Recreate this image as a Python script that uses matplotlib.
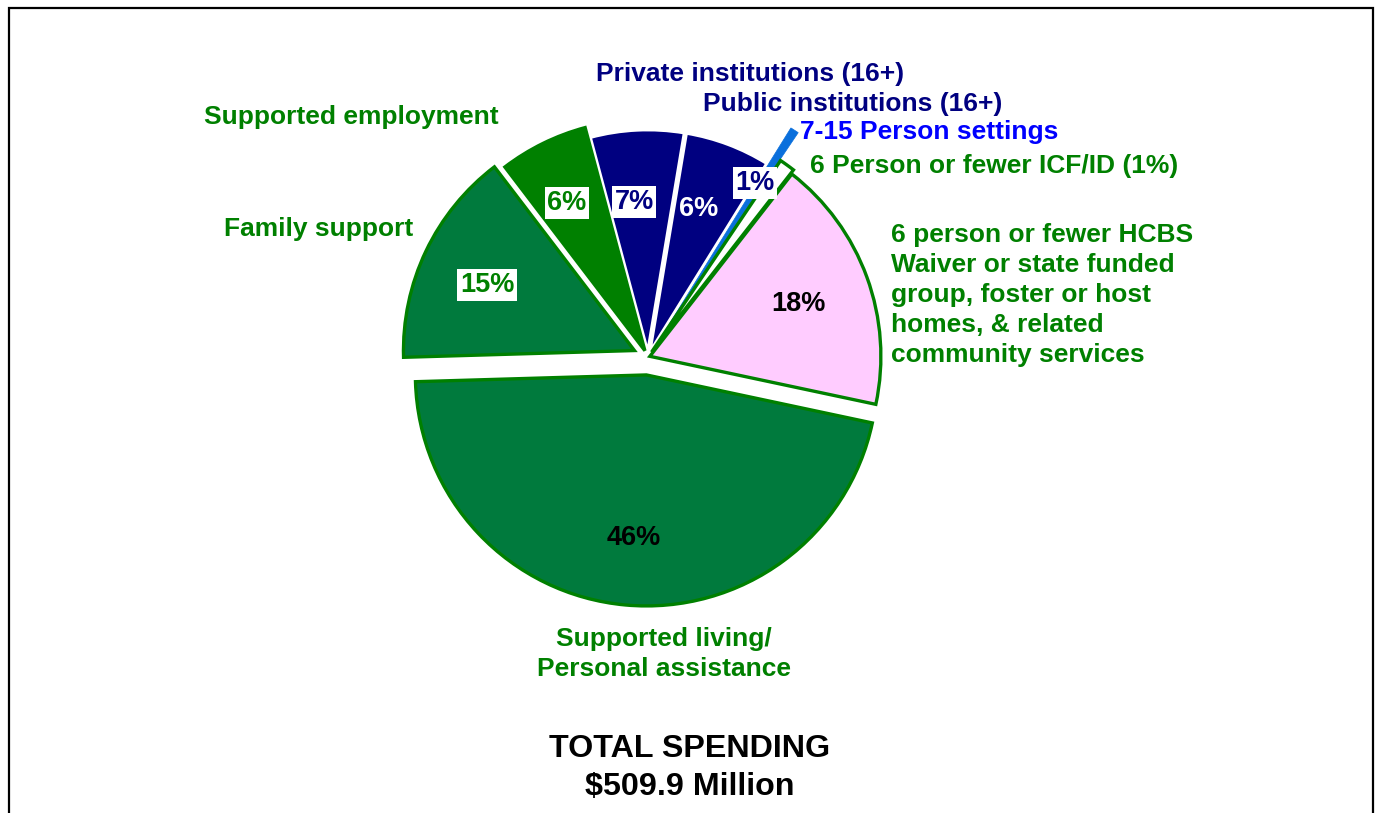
import matplotlib.pyplot as plt
from matplotlib.patches import Rectangle

plt.rcParams['font.family'] = ['Liberation Sans', 'DejaVu Sans']
plt.rcParams['font.weight'] = 'bold'

# slices, clockwise from the top
categories = ["Private institutions (16+)", "Public institutions (16+)",
              "7-15 Person settings", "6 Person or fewer ICF/ID (1%)",
              "6 person or fewer HCBS\nWaiver or state funded\ngroup, foster or host\nhomes, & related\ncommunity services",
              "Supported living/\nPersonal assistance", "Family support",
              "Supported employment"]
shares = [6.8, 6.2, 0.6, 1.1, 17.8, 46.2, 15.1, 6.2]
pct_labels = ["7%", "6%", "", "1%", "18%", "46%", "15%", "6%"]
title_lines = ["TOTAL SPENDING", "$509.9 Million"]

GREEN = '#008000'
NAVY = '#000080'
DKGREEN = '#007A3D'
BLUE = '#0000FF'
fills = [NAVY, NAVY, '#0A6FDC', 'white', '#FFCCFF', DKGREEN, DKGREEN, GREEN]
edges = ['white', 'white', '#0A6FDC', GREEN, GREEN, GREEN, GREEN, GREEN]
widths = [2.0, 2.0, 0.5, 2.4, 2.4, 2.4, 2.4, 2.4]
explode = [6, 6, 39, 6, 2, 18, 15, 7]   # px

W, H = 1379, 813
fig = plt.figure(figsize=(W / 100, H / 100), dpi=100)
ax = fig.add_axes([0, 0, 1, 1])

def Y(y):
    return H - y

wedges, _ = ax.pie(shares, startangle=105, counterclock=False,
                   center=(648, Y(357)), radius=231, explode=explode,
                   colors=fills, frame=True)
for i, (w, ec, lw) in enumerate(zip(wedges, edges, widths)):
    w.set_edgecolor(ec)
    w.set_linewidth(lw)
    if fills[i] == NAVY:
        w.set_radius(221)
ax.set_xlim(0, W)
ax.set_ylim(0, H)
ax.axis('off')

fs = 19
# category labels
ax.text(596, Y(74), categories[0], color=NAVY, fontsize=fs, va='center', ha='left')
ax.text(703, Y(104), categories[1], color=NAVY, fontsize=fs, va='center', ha='left')
ax.text(800, Y(132), categories[2], color=BLUE, fontsize=fs, va='center', ha='left')
ax.text(810, Y(166), categories[3], color=GREEN, fontsize=fs, va='center', ha='left')
ax.text(891, Y(295), categories[4], color=GREEN, fontsize=fs, va='center', ha='left',
        linespacing=1.32)
ax.text(664, Y(654), categories[5], color=GREEN, fontsize=fs, va='center', ha='center',
        linespacing=1.3)
ax.text(224, Y(229), categories[6], color=GREEN, fontsize=fs, va='center', ha='left')
ax.text(204, Y(117), categories[7], color=GREEN, fontsize=fs, va='center', ha='left')

# percentage labels
box = dict(facecolor='white', edgecolor='none', pad=2)
pct_pos = [(634, 202), (699, 209), None, (755, 183), (798, 304), (634, 538),
           (487, 285), (567, 203)]
pct_col = [NAVY, 'white', None, NAVY, 'black', 'black', GREEN, GREEN]
pct_box = [True, False, False, True, False, False, True, True]
for lab, pos, c, b in zip(pct_labels, pct_pos, pct_col, pct_box):
    if not lab:
        continue
    ax.text(pos[0], Y(pos[1]), lab, color=c, fontsize=19.5, ha='center', va='center',
            bbox=box if b else None)

ax.text(690, Y(749), title_lines[0], fontsize=23.2, ha='center', va='center', color='black')
ax.text(690, Y(787), title_lines[1], fontsize=23.2, ha='center', va='center', color='black')

# outer frame (bottom edge runs off the picture)
ax.add_patch(Rectangle((9, -20), 1364, H - 8 + 20, fill=False, lw=1.6,
                       edgecolor='black', clip_on=False))

fig.savefig('out.png', dpi=100)
